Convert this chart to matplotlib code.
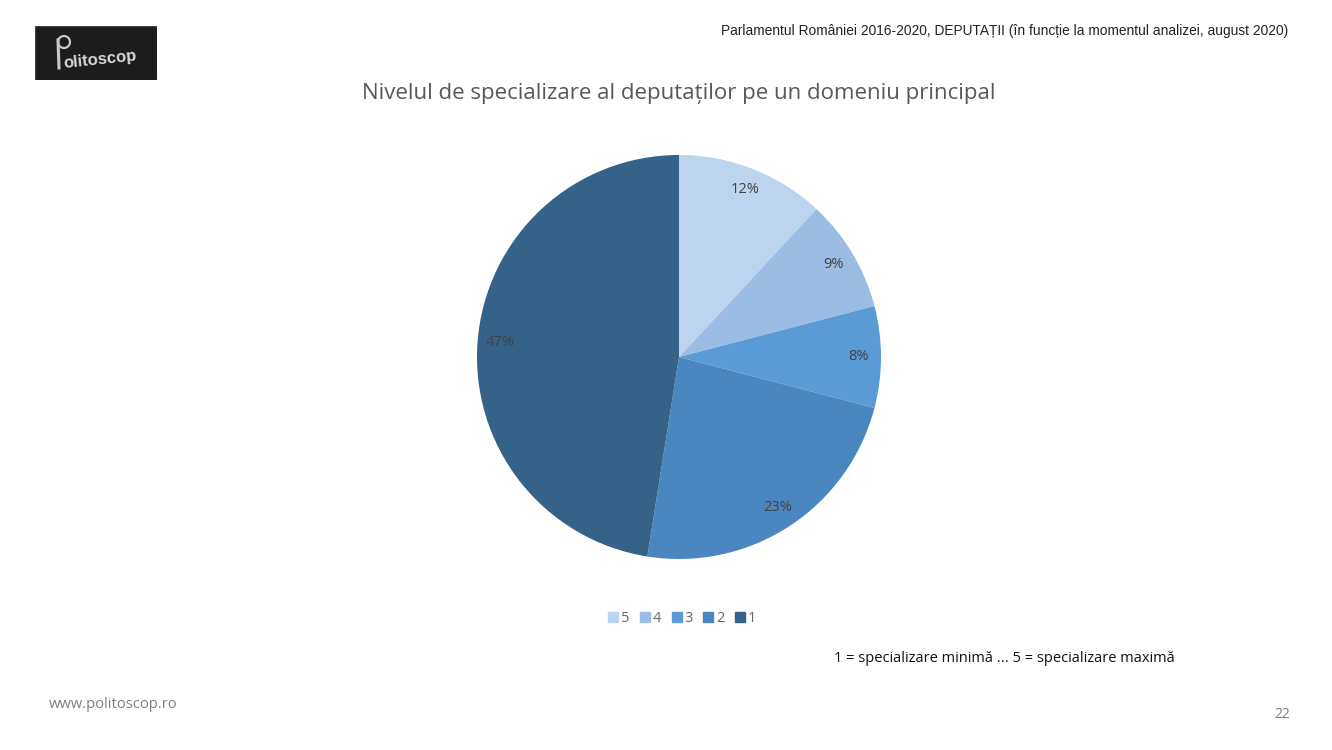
import matplotlib
matplotlib.use("Agg")
import matplotlib.pyplot as plt
from matplotlib.patches import Rectangle, Circle
from matplotlib.lines import Line2D

categories = ["5", "4", "3", "2", "1"]
values = [11.9, 9.0, 8.1, 23.4, 47.4]
pct_labels = ["12%", "9%", "8%", "23%", "47%"]
colors = ["#BDD4EE", "#9BBDE4", "#5A9BD5", "#4A87C0", "#346289"]

W, H = 1332, 750
fig = plt.figure(figsize=(W / 100, H / 100), dpi=100)
fig.patch.set_facecolor("white")

body = ["Open Sans", "DejaVu Sans"]
narrow = ["Liberation Sans Narrow", "Liberation Sans", "DejaVu Sans"]

def fx(x):
    return x / W

def fy(y):
    return 1 - y / H

# Pie axes
cx, cy, r = 679, 357, 202
ax = fig.add_axes([fx(cx - r), fy(cy + r), 2 * r / W, 2 * r / H])
wedges, texts = ax.pie(values, labels=pct_labels, colors=colors, startangle=90,
                       counterclock=False, labeldistance=0.89,
                       wedgeprops=dict(linewidth=0))
for t in texts:
    t.set_ha("center")
    t.set_va("center")
    t.set_color("#404040")
    t.set_fontsize(10.5)
    t.set_family(body)
ax.set_xlim(-1, 1)
ax.set_ylim(-1, 1)
ax.set_aspect("equal")
ax.axis("off")

# Title
fig.text(fx(679), fy(93), "Nivelul de specializare al deputaților pe un domeniu principal",
         ha="center", va="center", fontsize=16, color="#595959", family=body)

# Header
fig.text(fx(1288), fy(31), "Parlamentul României 2016-2020, DEPUTAȚII (în funcție la momentul analizei, august 2020)",
         ha="right", va="center", fontsize=9.9, color="#222222", family=narrow)

# Logo
logo = fig.add_axes([fx(35), fy(80), 122 / W, 54 / H])
logo.set_xlim(0, 122)
logo.set_ylim(0, 54)
logo.add_patch(Rectangle((0, 0), 122, 54, facecolor="#1c1c1c", edgecolor="#444444", lw=0.8))
logo.add_patch(Circle((29, 38), 6, facecolor="none", edgecolor="#c8c8c8", lw=1.6))
logo.text(65, 20, "olitoscop", ha="center", va="center", color="#d8d8d8",
          fontsize=12, fontweight="bold", family=narrow, rotation=6)
logo.plot([23, 24], [40, 12], color="#c8c8c8", lw=2.2)
logo.axis("off")

# Legend
handles = [Line2D([0], [0], marker="s", linestyle="none", markersize=7,
                  markerfacecolor=c, markeredgecolor=c) for c in colors]
fig.legend(handles, categories, loc="center", bbox_to_anchor=(fx(681), fy(619)),
           ncol=5, frameon=False, handletextpad=0.05, columnspacing=0.55,
           handlelength=1.0, prop=dict(family=body, size=10.5), labelcolor="#666666")

# Note
fig.text(fx(1004), fy(658), "1 = specializare minimă ... 5 = specializare maximă",
         ha="center", va="center", fontsize=10.5, color="#111111", family=body)

# Footer
fig.text(fx(49), fy(705), "www.politoscop.ro", ha="left", va="center",
         fontsize=10.6, color="#7f7f7f", family=body)
fig.text(fx(1290), fy(714), "22", ha="right", va="center",
         fontsize=10, color="#7f7f7f", family=body)

fig.savefig("out.png", dpi=100, facecolor="white")
